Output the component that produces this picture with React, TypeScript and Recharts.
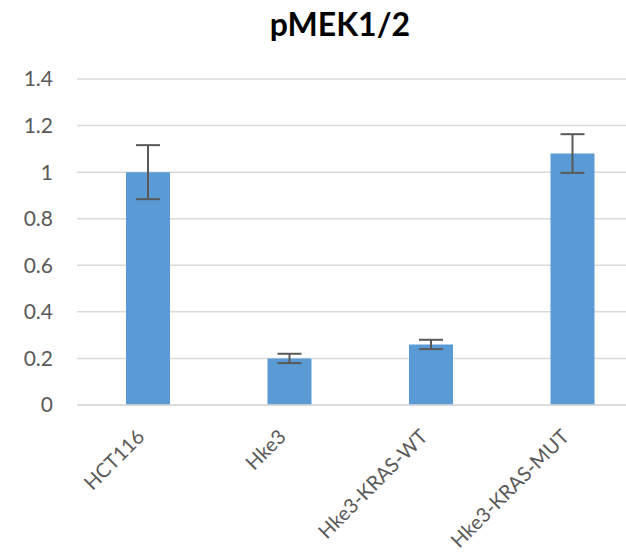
import { BarChart, Bar, XAxis, YAxis, CartesianGrid, ErrorBar } from 'recharts';

const CATEGORIES = ['HCT116', 'Hke3', 'Hke3-KRAS-WT', 'Hke3-KRAS-MUT'];
const VALUES = [1.0, 0.2, 0.26, 1.08];
const ERRORS = [0.116, 0.02, 0.02, 0.083];
const Y_TICKS = [0, 0.2, 0.4, 0.6, 0.8, 1, 1.2, 1.4];

const FONT = 'Lato, "Open Sans", sans-serif';
const TEXT_COLOR = '#595959';

const data = CATEGORIES.map((name, i) => ({ name, value: VALUES[i], err: ERRORS[i] }));

const RotatedTick = (props: any) => {
  const { x, y, payload } = props;
  const px = x - 2;
  const py = y + 25;
  return (
    <text
      x={px}
      y={py}
      transform={`rotate(-45, ${px}, ${py})`}
      textAnchor="end"
      fill={TEXT_COLOR}
      fontSize={20}
      fontFamily={FONT}
    >
      {payload.value}
    </text>
  );
};

export default function App() {
  return (
    <div
      style={{
        position: 'absolute',
        left: 0,
        top: 0,
        width: 626,
        height: 554,
        overflow: 'hidden',
        background: '#fff',
      }}
    >
      <div
        style={{
          position: 'absolute',
          left: 0,
          top: 4,
          width: 680,
          textAlign: 'center',
          fontFamily: FONT,
          fontWeight: 'bold',
          fontSize: 32,
          color: '#000',
        }}
      >
        pMEK1/2
      </div>
      <BarChart
        width={660}
        height={554}
        data={data}
        margin={{ top: 79, right: 17, left: 0, bottom: 0 }}
        barSize={44}
      >
        <CartesianGrid vertical={false} stroke="#D9D9D9" strokeWidth={1.5} />
        <XAxis
          dataKey="name"
          height={149}
          interval={0}
          tickLine={false}
          axisLine={{ stroke: '#D9D9D9', strokeWidth: 1.5 }}
          tick={<RotatedTick />}
        />
        <YAxis
          width={77}
          domain={[0, 1.4]}
          ticks={Y_TICKS}
          tickLine={false}
          axisLine={false}
          tickMargin={18}
          tick={{ fill: TEXT_COLOR, fontSize: 21, fontFamily: FONT }}
        />
        <Bar dataKey="value" fill="#5B9BD5" isAnimationActive={false}>
          <ErrorBar dataKey="err" direction="y" width={12} stroke="#595959" strokeWidth={2} />
        </Bar>
      </BarChart>
    </div>
  );
}
